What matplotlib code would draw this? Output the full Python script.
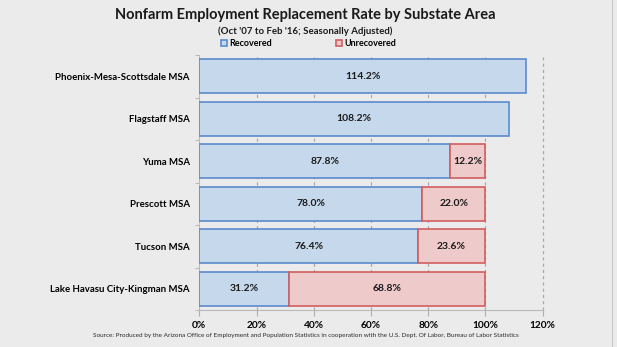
import matplotlib
matplotlib.use('Agg')
import matplotlib.pyplot as plt
from matplotlib.patches import Patch
import numpy as np

areas = ['Phoenix-Mesa-Scottsdale MSA', 'Flagstaff MSA', 'Yuma MSA',
         'Prescott MSA', 'Tucson MSA', 'Lake Havasu City-Kingman MSA']
recovered = [114.2, 108.2, 87.8, 78.0, 76.4, 31.2]
unrecovered = [0.0, 0.0, 12.2, 22.0, 23.6, 68.8]
xticks = [0, 20, 40, 60, 80, 100, 120]

plt.rcParams['font.family'] = ['Lato', 'DejaVu Sans']

bg = '#ebebeb'
fig = plt.figure(figsize=(6.17, 3.47), dpi=100, facecolor=bg)
ax = fig.add_axes([199.3 / 617, 1 - 310 / 347, 343.3 / 617, 255 / 347])
ax.set_facecolor(bg)

y = np.arange(len(areas))
h = 0.8

# dashed vertical gridlines
for t in xticks[1:]:
    ax.axvline(t, color='#a9a9a9', linewidth=0.9, linestyle=(0, (2.5, 2.5)), zorder=1,
               clip_on=False)

ax.barh(y, recovered, height=h, color='#c6d8eb', edgecolor='#5b8ccc', linewidth=1.2, zorder=3)
# only the rows that still have an unrecovered share
has_unrec = [i for i in range(len(areas)) if unrecovered[i] > 0]
ax.barh([y[i] for i in has_unrec], [unrecovered[i] for i in has_unrec],
        left=[recovered[i] for i in has_unrec], height=h, color='#efcaca',
        edgecolor='#d25e5e', linewidth=1.2, zorder=3)

for i in range(len(areas)):
    ax.text(recovered[i] / 2, y[i], f'{recovered[i]:.1f}%', ha='center', va='center',
            fontsize=7.5, fontweight='bold', color='#1a1a1a', zorder=4)
    if unrecovered[i] > 0:
        ax.text(recovered[i] + unrecovered[i] / 2, y[i], f'{unrecovered[i]:.1f}%', ha='center',
                va='center', fontsize=7.5, fontweight='bold', color='#1a1a1a', zorder=4)

ax.set_xlim(0, 120)
ax.set_ylim(len(areas) - 0.5, -0.5)
ax.set_xticks(xticks)
ax.set_xticklabels([f'{t}%' for t in xticks], fontsize=7.3, fontweight='bold')
ax.set_yticks(y)
ax.set_yticklabels(areas, fontsize=6.9, fontweight='bold')
ax.tick_params(axis='y', length=0, pad=7)
ax.set_yticks(np.arange(len(areas) + 1) - 0.5, minor=True)
ax.tick_params(axis='y', which='minor', length=3, color='#b0b0b0')
ax.tick_params(axis='x', length=4, color='#b0b0b0', pad=4)
for s in ['top', 'right']:
    ax.spines[s].set_visible(False)
for s in ['left', 'bottom']:
    ax.spines[s].set_color('#b8b8b8')

fig.text(0.495, 1 - 15 / 347, 'Nonfarm Employment Replacement Rate by Substate Area',
         ha='center', va='center', fontsize=10.5, fontweight='bold', color='#1a1a1a')
fig.text(0.495, 1 - 31 / 347, "(Oct '07 to Feb '16; Seasonally Adjusted)",
         ha='center', va='center', fontsize=6.9, fontweight='bold', color='#1a1a1a')

handles = [Patch(facecolor='#c6d8eb', edgecolor='#5b8ccc', linewidth=1.2, label='Recovered'),
           Patch(facecolor='#efcaca', edgecolor='#d25e5e', linewidth=1.2, label='Unrecovered')]
fig.legend(handles=handles, loc='center', bbox_to_anchor=(0.5, 1 - 43.5 / 347), ncol=2,
           frameon=False, prop={'weight': 'bold', 'size': 6.5},
           handlelength=0.7, handleheight=0.7, handletextpad=0.3, columnspacing=7)

fig.text(306 / 617, 1 - 336 / 347,
         'Source: Produced by the Arizona Office of Employment and Population Statistics in '
         'cooperation with the U.S. Dept. Of Labor, Bureau of Labor Statistics',
         ha='center', va='center', fontsize=4.6, color='#2a2a2a')

# slide edge on the right
fig.add_artist(plt.Line2D([612 / 617, 612 / 617], [0, 1], color='#c8c8c8', linewidth=0.8))

fig.savefig('out.png', dpi=100, facecolor=bg)
